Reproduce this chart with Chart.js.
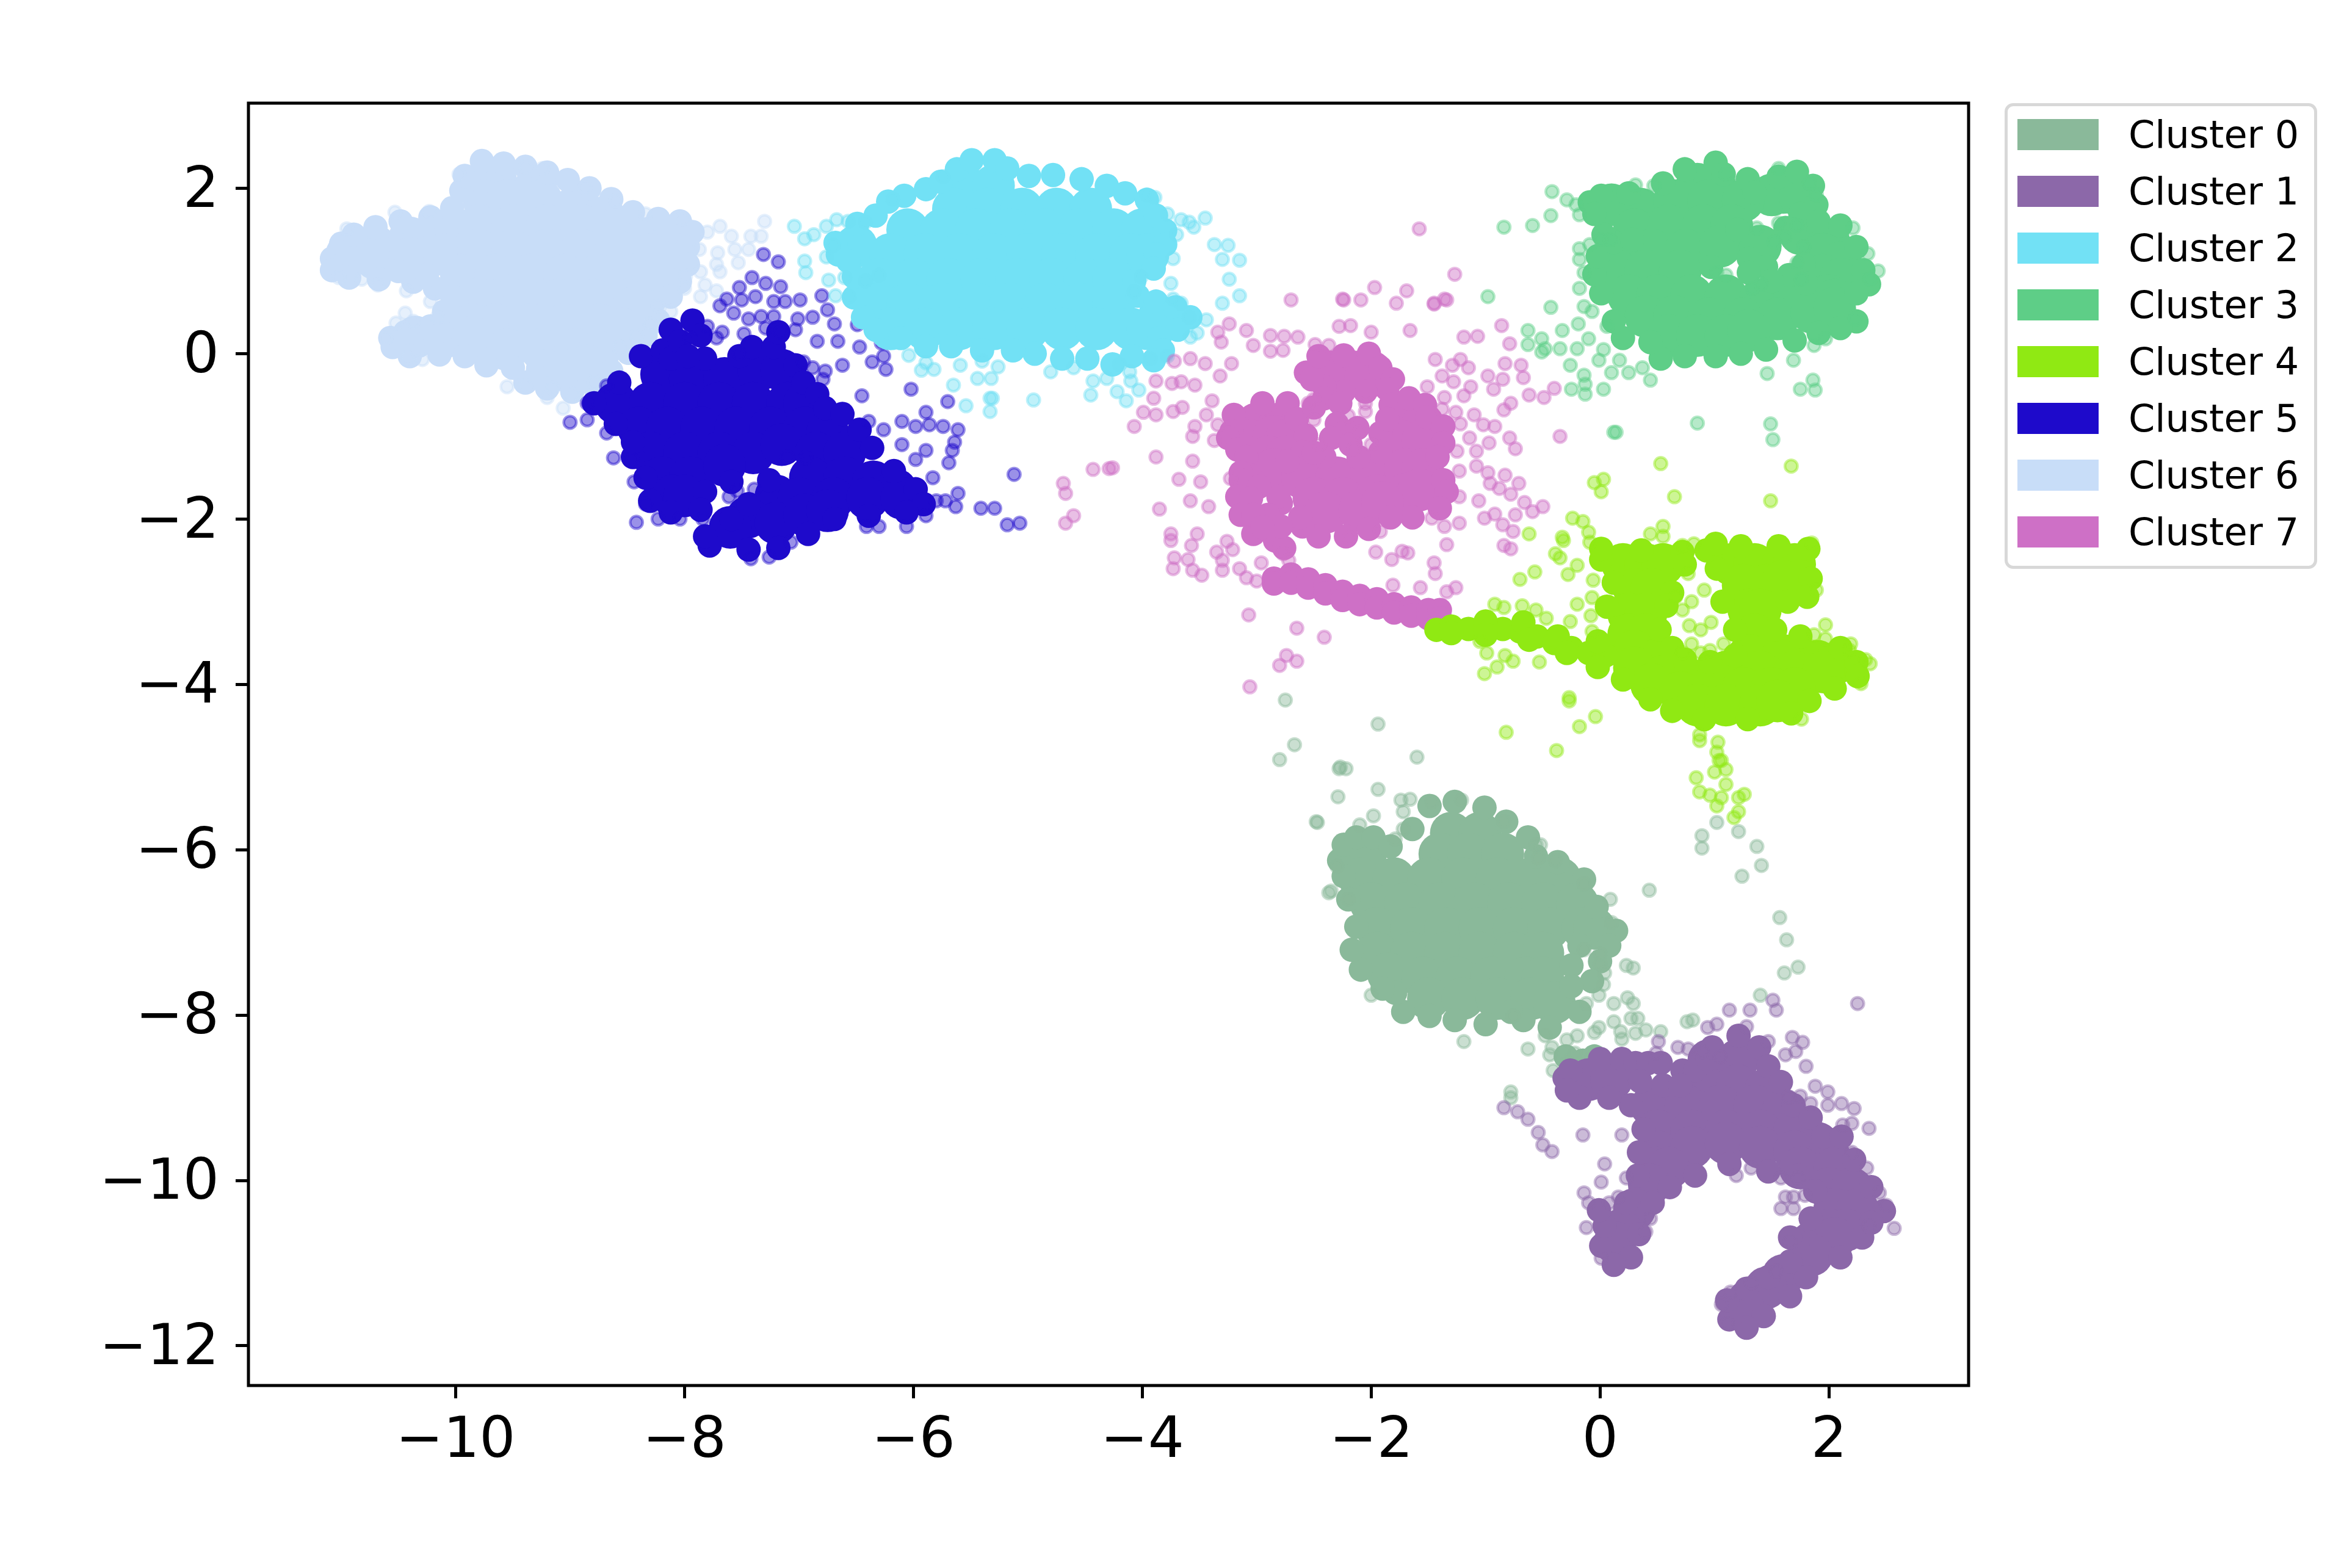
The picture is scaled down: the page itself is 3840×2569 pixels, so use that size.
<!DOCTYPE html>
<html>
<head>
<meta charset="utf-8">
<script src="https://cdn.jsdelivr.net/npm/chart.js@4"></script>
<style>
  html, body { margin: 0; padding: 0; background: #fff; }
  #wrap { position: relative; width: 3840px; height: 2569px; overflow: hidden; }
  #plot { position: absolute; left: 0; top: 0; }
  #legend {
    position: absolute; left: 3284px; top: 169px; width: 502px; height: 753px;
    border: 5px solid #d8d8d8; border-radius: 14px; background: #fff;
    font: 62px "DejaVu Sans", sans-serif; color: #000;
  }
  .row { position: absolute; left: 16px; height: 51px; line-height: 51px; white-space: nowrap; }
  .patch { position: absolute; left: 0; top: 0; width: 133px; height: 51px; }
  .name { position: absolute; left: 182px; top: 0; }
</style>
</head>
<body>
<div id="wrap">
  <canvas id="plot" width="3840" height="2569"></canvas>
  <div id="legend"></div>
</div>
<script>
"use strict";

const clusterNames = ["Cluster 0", "Cluster 1", "Cluster 2", "Cluster 3", "Cluster 4", "Cluster 5", "Cluster 6", "Cluster 7"];
const clusterColors = ["#8AB99A", "#8C68A9", "#72E1F5", "#5ECE87", "#90E913", "#1E0ACB", "#C8DDF8", "#CE70C6"];
const xTicks = [-10, -8, -6, -4, -2, 0, 2];
const yTicks = [-12, -10, -8, -6, -4, -2, 0, 2];

// solid middle of each cluster
const dense0 = [[-1.3,-5.8],[-1.05,-5.8],[-2.05,-6.05],[-1.4,-6.05],[-1.15,-6.05],[-.85,-6.05],[-2.1,-6.35],[-1.8,-6.35],[-1.5,-6.35],[-1.2,-6.35],[-.9,-6.35],[-.6,-6.35],[-.35,-6.35],[-2,-6.65],[-1.7,-6.65],[-1.4,-6.65],[-1.1,-6.65],[-.8,-6.65],[-.5,-6.65],[-.2,-6.65],[-1.95,-6.95],[-1.65,-6.95],[-1.35,-6.95],[-1.05,-6.95],[-.75,-6.95],[-.45,-6.95],[-.15,-6.95],[-.05,-6.95],[-1.95,-7.25],[-1.65,-7.25],[-1.35,-7.25],[-1.05,-7.25],[-.75,-7.25],[-.5,-7.25],[-1.85,-7.5],[-1.55,-7.55],[-1.25,-7.55],[-.95,-7.55],[-.65,-7.55],[-.5,-7.55],[-1.5,-7.8],[-1.2,-7.8],[-.9,-7.8],[-.6,-7.8],[-.4,-7.85]];
const dense1 = [[.95,-8.55],[1.2,-8.55],[-.1,-8.78],[.1,-8.78],[.9,-8.85],[1.2,-8.85],[1.45,-8.9],[.45,-9.1],[.75,-9.1],[1.05,-9.1],[1.35,-9.1],[1.6,-9.15],[.5,-9.4],[.8,-9.4],[1.1,-9.4],[1.4,-9.4],[1.7,-9.4],[1.9,-9.55],[.5,-9.65],[.8,-9.6],[1.1,-9.55],[1.4,-9.6],[1.7,-9.65],[2,-9.7],[.5,-9.85],[.6,-9.85],[1.75,-9.85],[2.05,-9.85],[.43,-10.05],[2,-10.1],[2.2,-10.1],[.3,-10.35],[2.05,-10.35],[2.25,-10.35],[.18,-10.6],[2,-10.6],[2.15,-10.6],[.13,-10.75],[1.85,-10.75],[2.05,-10.7],[1.85,-10.9],[1.6,-11.15],[1.45,-11.3],[1.3,-11.45],[1.25,-11.55]];
const dense2 = [[-5.55,2.03],[-5.3,2.03],[-5.65,1.75],[-5.35,1.75],[-5.05,1.75],[-4.75,1.75],[-4.45,1.75],[-6.05,1.5],[-5.75,1.5],[-5.45,1.5],[-5.15,1.5],[-4.85,1.5],[-4.55,1.5],[-4.25,1.5],[-4,1.5],[-6.5,1.3],[-6.2,1.2],[-5.9,1.2],[-5.6,1.2],[-5.3,1.2],[-5,1.2],[-4.7,1.2],[-4.4,1.2],[-4.1,1.2],[-3.95,1.2],[-6.3,.9],[-6,.9],[-5.7,.9],[-5.4,.9],[-5.1,.9],[-4.8,.9],[-4.5,.9],[-4.25,.9],[-6.3,.6],[-6.05,.6],[-5.75,.6],[-5.45,.6],[-5.15,.6],[-4.85,.6],[-4.55,.6],[-4.25,.6],[-3.85,.45],[-6.2,.3],[-5.9,.3],[-5.6,.3],[-5.3,.3],[-5,.3],[-4.7,.3],[-4.4,.3],[-4.1,.3],[-3.95,.3]];
const dense3 = [[.85,2.05],[1,2.05],[1.6,1.95],[1.5,1.92],[.1,1.8],[.35,1.75],[.65,1.85],[.95,1.85],[1.25,1.85],[1.75,1.9],[.3,1.5],[.6,1.55],[.9,1.55],[1.15,1.55],[1.75,1.45],[2,1.35],[.2,1.25],[.45,1.25],[.75,1.25],[1.05,1.3],[1.4,1.3],[1.95,1.2],[2.1,1.1],[.15,1],[.4,1],[.7,1],[1.95,.95],[2.1,.9],[.25,.7],[.5,.7],[.8,.7],[1.1,.7],[1.4,.65],[1.7,.7],[2,.7],[2.05,.65],[.4,.45],[.65,.45],[.95,.42],[1.25,.42],[1.55,.42],[1.85,.5],[2.05,.55],[.6,.22],[.85,.22],[1.1,.22],[1.3,.28]];
const dense4 = [[.2,-2.55],[.4,-2.55],[.55,-2.55],[1.15,-2.55],[1.35,-2.55],[1.6,-2.55],[1.7,-2.55],[.3,-2.85],[.45,-2.85],[1.25,-2.8],[1.45,-2.8],[1.6,-2.75],[.25,-3.15],[.4,-3.15],[1.3,-3.1],[1.4,-3.1],[.25,-3.4],[.4,-3.4],[1.35,-3.4],[.3,-3.6],[.5,-3.7],[1.3,-3.65],[1.6,-3.65],[1.9,-3.72],[2.05,-3.75],[.3,-3.8],[.55,-3.9],[.8,-3.95],[1.1,-3.85],[1.4,-3.85],[1.7,-3.85],[1.95,-3.85],[.45,-4],[.7,-4.1],[.95,-4.05],[1.25,-4.05],[1.5,-4.05],[1.7,-4.05],[.85,-4.25],[1.1,-4.25],[1.4,-4.25],[1.55,-4.2]];
const dense5 = [[-8.2,-.25],[-7.95,-.3],[-7.65,-.3],[-7.35,-.2],[-7.15,-.2],[-8.6,-.6],[-8.3,-.6],[-8,-.6],[-7.7,-.6],[-7.4,-.6],[-7.1,-.6],[-6.95,-.6],[-8.4,-.9],[-8.15,-.9],[-7.85,-.9],[-7.55,-.9],[-7.25,-.9],[-6.95,-.9],[-6.75,-.95],[-8.3,-1.2],[-8,-1.2],[-7.7,-1.2],[-7.4,-1.2],[-7.15,-1.1],[-6.85,-1.2],[-6.6,-1.2],[-8.2,-1.5],[-7.95,-1.5],[-7.65,-1.35],[-6.9,-1.5],[-6.6,-1.5],[-6.35,-1.55],[-6.15,-1.65],[-8.1,-1.72],[-8,-1.72],[-7.2,-1.72],[-7,-1.75],[-6.7,-1.75],[-6.4,-1.75],[-6.1,-1.75],[-7.45,-1.98],[-7.2,-2.05],[-6.95,-1.95],[-6.75,-1.9],[-7.6,-2.1]];
const dense6 = [[-9.65,2.1],[-9.3,2.02],[-9.75,1.85],[-9.55,1.85],[-9.25,1.85],[-8.95,1.78],[-8.7,1.65],[-10.7,1.3],[-10.4,1.4],[-10.1,1.45],[-9.8,1.55],[-9.5,1.55],[-9.2,1.55],[-8.9,1.55],[-8.6,1.5],[-8.3,1.4],[-8.15,1.38],[-10.95,1.2],[-10.7,1.15],[-10.4,1.15],[-10.1,1.2],[-9.8,1.25],[-9.5,1.25],[-9.2,1.25],[-8.9,1.25],[-8.6,1.25],[-8.3,1.2],[-8.15,1.1],[-9.95,.95],[-9.65,.95],[-9.35,.95],[-9.05,.95],[-8.75,.95],[-8.45,.95],[-8.25,.9],[-9.85,.65],[-9.7,.65],[-9.4,.65],[-9.1,.65],[-8.8,.65],[-8.5,.65],[-8.45,.55],[-9.85,.35],[-9.65,.35],[-9.35,.35],[-9.05,.35],[-8.75,.35],[-8.55,.3],[-10.35,.2],[-10.1,.2],[-9.85,.2],[-9.55,.05],[-9.25,.05],[-8.95,.05],[-8.75,.02],[-9.2,-.2],[-9.05,-.2],[-8.85,-.15]];
const dense7 = [[-2.35,-.22],[-2.15,-.22],[-2,-.22],[-2.3,-.3],[-2.05,-.3],[-3,-.85],[-2.8,-.85],[-3.05,-1.05],[-2.85,-1],[-2.75,-1.05],[-2.9,-1.25],[-2.75,-1.25],[-1.7,-.8],[-1.55,-.85],[-1.75,-1.05],[-1.55,-1.05],[-2.85,-1.4],[-2.6,-1.5],[-2.3,-1.5],[-2,-1.45],[-1.7,-1.4],[-1.55,-1.4],[-2.5,-1.75],[-2.25,-1.75],[-1.95,-1.72],[-1.7,-1.7],[-1.58,-1.65],[-2.4,-1.92],[-2.1,-1.9],[-1.9,-1.8]];

// smaller points that trace the outline of each solid shape and its thin arms
const edge0 = [[-2.28,-6.13],[-2.24,-5.94],[-2.13,-5.85],[-1.98,-5.85],[-1.83,-5.96],[-1.64,-5.75],[-1.49,-5.47],[-1.27,-5.42],[-1.01,-5.49],[-.82,-5.66],[-.63,-5.85],[-.56,-6.08],[-.37,-6.15],[-.14,-6.36],[-.03,-6.69],[.14,-6.98],[.08,-7.16],[-.18,-7.16],[0,-7.35],[-.07,-7.59],[-.18,-7.96],[-.44,-8.15],[-.67,-8.06],[-.78,-7.96],[-1,-8.11],[-1.27,-8.06],[-1.49,-8.01],[-1.72,-7.96],[-1.79,-7.73],[-1.9,-7.68],[-2.09,-7.45],[-2.17,-7.21],[-2.13,-6.93],[-2.2,-6.6],[-2.24,-6.32],[-.3,-8.5],[-.25,-8.6],[-.15,-8.55],[-.05,-8.5],[-.25,-7.4],[-.25,-7.65]];
const edge1 = [[-.31,-8.76],[-.26,-8.67],[0,-8.53],[.19,-8.53],[.31,-8.58],[.42,-8.58],[.53,-8.58],[.72,-8.67],[.83,-8.67],[.94,-8.53],[.98,-8.39],[1.21,-8.25],[1.39,-8.39],[1.47,-8.62],[1.58,-8.81],[1.69,-9.09],[1.84,-9.24],[1.95,-9.47],[2.11,-9.47],[2.22,-9.75],[2.37,-10.08],[2.48,-10.37],[2.37,-10.51],[2.29,-10.69],[2.1,-10.93],[1.8,-11.17],[1.66,-11.4],[1.43,-11.64],[1.28,-11.78],[1.13,-11.68],[1.11,-11.45],[1.28,-11.31],[1.47,-11.17],[1.66,-10.98],[1.73,-10.74],[1.66,-10.69],[1.84,-10.46],[1.88,-10.13],[1.73,-9.94],[1.47,-9.89],[1.13,-9.8],[.83,-9.94],[.61,-10.08],[.46,-10.27],[.34,-10.65],[.27,-10.93],[.12,-11.02],[.01,-10.79],[.04,-10.55],[.23,-10.27],[.33,-9.94],[.34,-9.66],[.38,-9.38],[.27,-9.09],[.08,-9],[-.18,-9],[-.29,-8.91],[.35,-8.8],[.55,-8.85],[.7,-8.85],[-.01,-10.36]];
const edge2 = [[-6.68,1.34],[-6.49,1.57],[-6.33,1.67],[-6.22,1.84],[-6.08,1.91],[-5.89,1.99],[-5.76,2.08],[-5.62,2.23],[-5.49,2.34],[-5.29,2.34],[-5.18,2.24],[-4.99,2.15],[-4.78,2.16],[-4.53,2.11],[-4.31,2.03],[-4.15,1.94],[-3.96,1.86],[-3.88,1.67],[-3.8,1.49],[-3.8,1.32],[-3.88,1.2],[-3.9,1.03],[-4.07,.88],[-4.04,.7],[-3.88,.63],[-3.71,.56],[-3.58,.44],[-3.69,.29],[-3.85,.19],[-3.82,.04],[-3.9,-.08],[-4.09,-.03],[-4.26,-.13],[-4.48,-.06],[-4.7,-.06],[-4.94,0],[-5.13,.04],[-5.4,.04],[-5.67,.09],[-5.89,.09],[-6.11,.19],[-6.33,.29],[-6.44,.44],[-6.52,.68],[-6.52,.93],[-6.57,1.12],[-6.66,1.2]];
const edge3 = [[-.09,1.83],[.01,1.91],[.25,1.94],[.55,2.06],[.74,2.23],[1.01,2.31],[1.08,2.17],[1.29,2.11],[1.35,1.95],[1.56,2.14],[1.72,2.2],[1.86,2.03],[1.89,1.8],[1.75,1.69],[1.91,1.6],[2.1,1.55],[2.24,1.29],[2.3,1.01],[2.35,.84],[2.24,.73],[2.24,.39],[2.1,.31],[1.91,.25],[1.7,.16],[1.45,.05],[1.23,0],[1.01,-.03],[.74,-.03],[.53,-.06],[.44,.14],[.2,.19],[.12,.39],[.01,.73],[-.05,.96],[-.02,1.18],[.12,1.35],[.28,1.38],[.03,1.44],[-.05,1.69],[.97,1.05],[1.2,1.5],[1.3,1.15],[1.45,1.05],[1.3,.98],[1.7,1.5],[1.78,1.08],[1.65,.95],[1.5,.88],[1.8,.85],[1.62,1.52]];
const edge4 = [[-1.43,-3.34],[-1.3,-3.3],[-1.15,-3.33],[-1,-3.32],[-.85,-3.33],[-.7,-3.36],[-.55,-3.42],[-.4,-3.5],[-.25,-3.56],[-.1,-3.62],[.05,-3.65],[-1.3,-3.38],[-1,-3.24],[-.67,-3.25],[-.37,-3.42],[-.02,-3.48],[-.29,-3.62],[-.62,-3.46],[-1,-3.4],[.06,-3.06],[.12,-2.77],[.01,-2.49],[.01,-2.36],[.36,-2.38],[.72,-2.4],[.74,-2.55],[.63,-2.89],[.58,-3.05],[.52,-3.34],[.63,-3.56],[.74,-3.7],[.96,-3.73],[1.18,-3.65],[1.18,-3.34],[1.07,-3],[1.02,-2.6],[.93,-2.38],[1.01,-2.3],[1.23,-2.33],[1.56,-2.33],[1.82,-2.36],[1.84,-2.72],[1.81,-2.94],[1.64,-3],[1.53,-3.34],[1.75,-3.42],[2.1,-3.56],[2.24,-3.73],[2.25,-3.9],[2.05,-4.05],[1.83,-4.2],[1.67,-4.35],[1.29,-4.42],[.91,-4.42],[.63,-4.32],[.44,-4.18],[.2,-3.94],[-.02,-3.79]];
const edge5 = [[-8.79,-.6],[-8.57,-.35],[-8.38,-.03],[-8.19,.04],[-8.12,-.06],[-7.82,-.06],[-7.52,-.03],[-7.41,.08],[-7.22,.08],[-7.03,-.14],[-6.96,-.35],[-6.84,-.49],[-6.77,-.66],[-6.62,-.73],[-6.47,-.92],[-6.36,-1.14],[-6.17,-1.42],[-5.98,-1.64],[-5.91,-1.82],[-6.06,-1.92],[-6.39,-1.96],[-6.69,-2],[-6.92,-2.18],[-7.18,-2.35],[-7.44,-2.37],[-7.78,-2.32],[-7.82,-2.21],[-7.59,-2],[-7.44,-1.82],[-7.26,-1.53],[-7.59,-1.55],[-7.82,-1.67],[-7.86,-1.89],[-8.12,-1.92],[-8.3,-1.78],[-8.34,-1.5],[-8.45,-1.25],[-8.45,-1.07],[-8.6,-.85],[-8.12,.29],[-7.93,.4],[-7.86,.22],[-8.04,.15],[-7.97,-.03],[-7.18,.26]];
const edge6 = [[-11.08,1.15],[-11,1.33],[-10.89,1.44],[-10.7,1.53],[-10.48,1.6],[-10.22,1.65],[-10.03,1.76],[-9.95,1.97],[-9.92,2.15],[-9.77,2.33],[-9.58,2.3],[-9.39,2.26],[-9.2,2.19],[-9.02,2.1],[-8.83,2],[-8.64,1.87],[-8.45,1.71],[-8.23,1.63],[-8.04,1.6],[-7.93,1.47],[-7.97,1.29],[-7.97,1.08],[-8.04,.87],[-8.12,.69],[-8.27,.62],[-8.23,.4],[-8.34,.22],[-8.49,.01],[-8.64,-.21],[-8.79,-.39],[-8.98,-.46],[-9.2,-.42],[-9.39,-.35],[-9.5,-.17],[-9.73,-.14],[-9.92,-.03],[-10.14,-.01],[-10.4,-.03],[-10.55,.08],[-10.57,.19],[-10.44,.26],[-10.22,.33],[-10.1,.51],[-10.03,.69],[-10.18,.79],[-10.37,.87],[-10.67,.9],[-10.93,.92],[-11.08,1.01],[-10.25,.95],[-10.5,1]];
const edge7 = [[-2.57,-.23],[-2.46,-.03],[-2.24,-.02],[-2.02,0],[-1.92,-.17],[-1.81,-.31],[-1.86,-.43],[-2.05,-.46],[-2.24,-.46],[-2.41,-.4],[-2.52,-.31],[-2.95,-.6],[-2.73,-.6],[-2.65,-.79],[-2.57,-.99],[-2.6,-1.19],[-3.2,-.74],[-3.22,-.94],[-3.25,-1.02],[-3.17,-1.16],[-3.09,-1.25],[-2.73,-1.3],[-1.83,-.62],[-1.67,-.54],[-1.53,-.62],[-1.51,-.77],[-1.37,-.88],[-1.37,-1.08],[-1.42,-1.25],[-1.92,-.96],[-1.86,-.79],[-1.92,-1.19],[-2.41,-.54],[-2.27,-.6],[-2.3,-.85],[-2.24,-.96],[-2.35,-1.02],[-2.41,-1.25],[-2.11,-1.25],[-2.12,-.9],[-2.18,-1.1],[-2.5,-1.2],[-2.5,-.65],[-1.37,-1.53],[-1.34,-1.67],[-1.4,-1.87],[-1.64,-1.98],[-1.83,-1.98],[-2.02,-2.12],[-2.22,-2.21],[-2.46,-2.21],[-2.6,-2.09],[-2.62,-1.98],[-2.79,-1.81],[-2.81,-1.73],[-3.06,-1.47],[-3.14,-1.44],[-3.14,-1.53],[-3.17,-1.73],[-3.14,-1.95],[-3.03,-2.18],[-2.84,-2.26],[-2.76,-2.35],[-2.98,-1.61],[-2.9,-1.95],[-2.79,-2.09],[-3.05,-1.75],[-3.03,-1.95],[-2.95,-2.1],[-2.85,-2.72],[-2.85,-2.78],[-2.7,-2.67],[-2.7,-2.77],[-2.55,-2.73],[-2.55,-2.83],[-2.4,-2.8],[-2.4,-2.9],[-2.25,-2.88],[-2.25,-2.98],[-2.1,-2.93],[-2.1,-3.03],[-1.95,-2.97],[-1.95,-3.07],[-1.8,-3.03],[-1.8,-3.13],[-1.65,-3.07],[-1.65,-3.17],[-1.5,-3.1],[-1.5,-3.2],[-1.4,-3.1],[-1.4,-3.2]];

// loose points around the clusters
const stray0 = [[-2.28,-5.02],[-2.22,-5.02],[-1.94,-5.27],[-2.29,-5.36],[-2.48,-5.66],[-1.98,-5.59],[-1.74,-5.4],[-1.66,-5.39],[-1.72,-5.54],[-1.47,-5.42],[-1.21,-5.4],[-1.79,-5.87],[-1.72,-5.75],[-2.3,-6.2],[-2.35,-6.5],[-2.2,-6.6],[-2,-7.76],[-1.19,-8.32],[-.84,-5.66],[-.56,-5.94],[-.52,-5.94],[-.54,-6.1],[-.39,-6.13],[-.14,-6.41],[.09,-6.6],[.43,-6.49],[.1,-6.88],[-.14,-7.21],[0,-7.26],[0,-7.38],[.04,-7.49],[.03,-7.63],[-.01,-7.76],[-.12,-7.86],[.23,-7.4],[.29,-7.43],[.12,-7.86],[.24,-7.79],[.29,-7.86],[.27,-8.04],[.33,-8.04],[.12,-8.08],[.18,-8.2],[.19,-8.29],[-.01,-8.15],[-.05,-8.21],[-.2,-8.25],[-.29,-8.3],[-.48,-8.25],[-.42,-8.39],[-.44,-8.48],[-.63,-8.41],[-.41,-8.67],[-.29,-8.58],[-.07,-8.51],[-.22,-8.46],[.31,-8.22],[.4,-8.18],[.53,-8.2],[.76,-8.08],[.81,-8.06],[-.78,-8.93],[-.78,-9],[-.76,-8.01],[.89,-5.83],[.89,-5.98],[1.02,-5.67],[1.21,-5.78],[1.37,-5.96],[1.41,-6.19],[1.24,-6.32],[1.57,-6.82],[1.63,-7.09],[1.73,-7.42],[1.61,-7.49],[1.4,-7.76],[-2.75,-4.19],[-2.8,-4.91],[-2.67,-4.73],[-1.94,-4.48],[-1.6,-4.88],[-2.27,-5],[-2.47,-5.67],[-2.37,-6.52],[-2.1,-5.7]];
const stray1 = [[-.84,-9.12],[-.72,-9.17],[-.63,-9.26],[-.54,-9.42],[-.5,-9.57],[-.42,-9.65],[-.15,-9.45],[.19,-9.45],[.04,-9.8],[.01,-10.02],[.23,-9.97],[-.14,-10.15],[-.1,-10.27],[.16,-10.2],[.08,-10.27],[-.12,-10.57],[.01,-10.94],[.4,-10.62],[.44,-10.46],[1.13,-7.94],[1.31,-7.94],[1.51,-7.82],[1.54,-7.94],[2.25,-7.86],[1.68,-8.27],[1.77,-8.33],[1.47,-8.32],[1.62,-8.48],[1.71,-8.44],[1.8,-8.62],[1.88,-8.86],[1.99,-8.93],[2.11,-9.07],[2.22,-9.13],[1.99,-9.09],[1.65,-8.99],[1.75,-8.98],[1.84,-9.07],[2.12,-9.33],[2.2,-9.31],[2.35,-9.37],[2.33,-9.85],[2.2,-9.66],[2.44,-10.15],[2.5,-10.3],[2.57,-10.58],[2.35,-10.55],[1.28,-8.14],[1.02,-8.11],[.94,-8.15],[.51,-8.32],[.49,-8.46],[.68,-8.39],[.77,-8.41],[.89,-8.44],[1.05,-8.51],[1.19,-9.94],[1.32,-9.85],[1.58,-9.97],[1.73,-9.97],[1.62,-10.2],[1.69,-10.2],[1.58,-10.34],[1.69,-10.34],[1.79,-10.18],[1.66,-10.74],[1.06,-11.5],[1.11,-11.73],[1.14,-11.35],[1.32,-11.24],[1.54,-11.1]];
const stray2 = [[-5.74,2.14],[-6.18,1.87],[-6.67,1.62],[-6.57,1.6],[-6.42,1.59],[-6.87,1.44],[-6.76,1.54],[-7.04,1.54],[-6.95,1.39],[-6.7,1.31],[-6.95,1.12],[-6.76,1.17],[-6.94,.98],[-6.74,.89],[-6.6,.92],[-6.68,.7],[-6.56,.69],[-6.42,.88],[-6.3,.95],[-6.04,-.02],[-5.89,-.11],[-5.93,-.2],[-5.82,-.19],[-5.65,-.38],[-5.59,-.14],[-5.4,-.09],[-5.26,-.16],[-5.44,-.3],[-5.32,-.3],[-5.54,-.63],[-5.33,-.54],[-5.31,-.54],[-5.33,-.7],[-4.95,-.56],[-4.8,-.22],[-4.6,-.17],[-4.43,-.33],[-4.45,-.5],[-4.31,-.3],[-4.2,-.13],[-4.11,-.22],[-4.1,-.33],[-4.03,-.44],[-4.22,-.46],[-4.14,-.57],[-3.78,-.03],[-3.93,-.06],[-3.96,1.92],[-3.89,1.89],[-3.78,1.69],[-3.66,1.62],[-3.59,1.59],[-3.45,1.64],[-3.55,1.53],[-3.7,1.44],[-3.37,1.32],[-3.25,1.31],[-3.73,1.15],[-3.3,1.14],[-3.15,1.13],[-3.75,.85],[-3.24,.9],[-3.15,.7],[-3.3,.61],[-4.01,.93],[-4.07,.75],[-3.73,.66],[-3.66,.61],[-3.59,.44],[-3.44,.41],[-3.52,.25],[-3.58,.2]];
const stray3 = [[-.42,1.96],[-.29,1.86],[-.21,1.8],[-.18,1.68],[-.43,1.67],[-.59,1.55],[-.84,1.53],[-.98,.69],[-.43,.56],[-.63,.28],[-.63,.11],[-.51,.18],[-.51,.02],[-.33,.28],[-.19,.36],[-.48,.06],[-.35,.06],[-.2,.06],[-.1,.18],[-.26,-.14],[-.14,-.26],[-.01,-.08],[.03,.05],[-.25,-.43],[-.13,-.37],[.03,-.43],[-.13,-.49],[.17,-.08],[.1,-.23],[.25,-.23],[.37,-.17],[.44,-.32],[.12,-.95],[.14,-.95],[.85,-.84],[1.49,-.85],[1.51,-1.04],[1.46,-.24],[1.69,-.08],[1.86,-.32],[1.75,-.43],[1.88,-.44],[1.97,.18],[1.87,.1],[2.23,.42],[2.36,.9],[2.43,1],[2.34,1.21],[-.18,1.27],[-.18,1.14],[-.14,.98],[-.18,.79],[-.14,.57],[-.07,.51],[.06,.33],[-.09,1.32],[.01,1.38],[.09,1.38],[.31,2.04],[.47,2.03],[1.1,2.17],[1.56,2.24],[1.83,2.06],[1.89,1.92],[2.21,1.52],[1.02,.98],[1.1,.95],[1.33,.79],[1.41,.84],[1.72,1.1],[1.76,.9],[1.78,1.29],[1.61,1.41],[1.52,1.35],[1.37,1.52],[1.56,1.58],[1.72,1.55]];
const stray4 = [[.53,-1.33],[1.67,-1.36],[1.49,-1.78],[.65,-1.73],[-.05,-1.56],[.03,-1.52],[.01,-1.67],[-.62,-2.18],[-.24,-1.99],[-.15,-2.03],[-.1,-2.16],[-.09,-2.28],[-.33,-2.22],[-.32,-2.26],[-.39,-2.42],[-.35,-2.47],[-.57,-2.64],[-.7,-2.73],[-.28,-2.67],[-.2,-2.56],[-.06,-2.74],[-.07,-2.95],[-.2,-3.03],[-.08,-3.17],[-.26,-3.24],[-.07,-3.36],[-.92,-3.03],[-.84,-3.07],[-.68,-3.05],[-.56,-3.1],[-.47,-3.2],[-.99,-3.62],[-.83,-3.65],[-.76,-3.72],[-.9,-3.79],[-1.01,-3.87],[-.53,-3.73],[-1.05,-3.48],[-.27,-4.16],[-.27,-4.2],[-.04,-4.39],[-.18,-4.51],[-.82,-4.58],[-.38,-4.8],[.44,-2.18],[.55,-2.09],[.55,-2.21],[.82,-2.3],[.72,-2.32],[1.85,-2.29],[1.89,-2.86],[.77,-2.66],[.91,-2.86],[.8,-3],[.72,-3.1],[.66,-2.94],[.78,-3.29],[.88,-3.34],[.97,-3.25],[.8,-3.51],[.88,-3.62],[.72,-3.62],[.96,-3.59],[1.08,-3.51],[1.97,-3.28],[1.87,-3.4],[1.97,-3.45],[2.19,-3.51],[2.18,-3.59],[2.36,-3.75],[2.32,-3.7],[2.28,-3.99],[1.76,-4.42],[.87,-4.61],[.87,-4.68],[1.03,-4.7],[1.02,-4.82],[1.06,-4.92],[1.04,-4.92],[1,-5.06],[1.1,-5.03],[1.1,-5.21],[.84,-5.13],[.87,-5.3],[.96,-5.34],[1.06,-5.37],[1.02,-5.47],[1.21,-5.37],[1.26,-5.33],[1.21,-5.54],[1.17,-5.61]];
const stray5 = [[-7.31,1.2],[-7.18,1.11],[-7.41,.92],[-7.52,.8],[-7.29,.85],[-7.16,.81],[-7.63,.66],[-7.5,.65],[-7.38,.69],[-7.22,.63],[-7.12,.63],[-6.99,.65],[-6.8,.7],[-7.69,.58],[-7.57,.49],[-7.44,.42],[-7.33,.45],[-7.22,.45],[-7.01,.42],[-6.88,.44],[-6.75,.53],[-7.48,.24],[-7.29,.31],[-7.16,.26],[-7.03,.29],[-6.69,.36],[-6.49,.35],[-6.84,.15],[-6.66,.15],[-6.47,.08],[-6.28,.13],[-6.26,-.03],[-6.36,-.1],[-6.24,-.19],[-6.62,-.14],[-6.77,-.21],[-6.88,-.17],[-6.79,-.31],[-6.96,-.1],[-7.8,.33],[-7.67,.26],[-7.72,.19],[-7.52,0],[-7.95,.19],[-6.45,-.51],[-6.02,-.43],[-5.7,-.58],[-6.1,-.82],[-5.89,-.71],[-5.86,-.86],[-6.39,-.82],[-5.98,-.88],[-6.26,-.92],[-6.1,-1.1],[-5.61,-.92],[-5.64,-1.07],[-5.66,-1.17],[-5.69,-1.32],[-5.89,-1.17],[-5.83,-1.5],[-5.98,-1.28],[-5.72,-1.78],[-5.61,-1.69],[-5.63,-1.85],[-5.8,-1.78],[-5.89,-1.96],[-6.06,-2.09],[-6.3,-2.09],[-6.41,-2.09],[-7.07,-2.28],[-7.26,-2.46],[-7.42,-2.48],[-9,-.83],[-8.85,-.8],[-8.85,-.6],[-8.68,-.39],[-8.68,-.96],[-8.62,-1.26],[-8.46,-1.28],[-8.44,-1.55],[-8.34,-1.82],[-8.42,-2.04],[-8.23,-2],[-8.04,-2],[-7.84,-2],[-7.61,-1.73],[-7.54,-1.66],[-6.94,-1.26],[-7.1,-1.25],[-7.39,-1.64],[-5.12,-1.46],[-5.41,-1.87],[-5.29,-1.87],[-5.18,-2.07],[-5.07,-2.05],[-5.74,-.88]];
const stray6 = [[-10.95,1.51],[-10.53,1.71],[-10.23,1.72],[-9.97,2.17],[-9.39,2.26],[-9.24,2.24],[-8.87,2.01],[-8.6,1.85],[-8.34,1.69],[-8.02,1.63],[-7.8,1.47],[-7.69,1.54],[-7.59,1.42],[-7.42,1.42],[-7.33,1.42],[-7.3,1.6],[-7.87,1.26],[-7.71,1.22],[-7.56,1.26],[-7.44,1.26],[-7.53,1.1],[-7.72,1.08],[-7.86,.99],[-7.69,.99],[-7.82,.83],[-7.72,.76],[-7.86,.69],[-8,.79],[-7.99,.94],[-10.43,.76],[-10.22,.63],[-10.44,.49],[-10.52,.37],[-10.37,.39],[-10.61,.19],[-10.16,.44],[-10.29,-.07],[-10.42,-.05],[-10.68,.83],[-11.02,.92],[-10.82,.9],[-9.55,-.4],[-9.2,-.53],[-9.06,-.66],[-8.98,-.49],[-9.39,-.39],[-9.15,-.42],[-8.79,-.35],[-8.57,.08],[-8.23,.58],[-8.12,.51],[-8.3,.36],[-8.42,.22],[-8.21,.33]];
const stray7 = [[-2.7,.65],[-2.24,.65],[-2.09,.65],[-1.78,.61],[-1.45,.61],[-1.34,.65],[-2.28,.33],[-2.18,.34],[-2,.26],[-1.66,.28],[-.86,.34],[-1.19,.2],[-1.07,.21],[-.79,.12],[-3.24,.36],[-3.34,.26],[-3.31,.14],[-3.09,.28],[-3.03,.1],[-2.88,.22],[-2.76,.21],[-2.64,.2],[-2.49,.11],[-2.37,.1],[-2.88,.03],[-2.77,.04],[-3.58,-.06],[-3.72,-.09],[-3.45,-.12],[-3.22,-.12],[-3.32,-.27],[-3.54,-.38],[-3.74,-.36],[-3.88,-.33],[-3.66,-.34],[-3.9,-.54],[-3.88,-.74],[-3.99,-.71],[-3.73,-.7],[-3.65,-.65],[-3.39,-.57],[-3.44,-.74],[-4.07,-.88],[-3.54,-.88],[-3.34,-.86],[-3.56,-1],[-3.37,-1.05],[-3.88,-1.25],[-3.56,-1.3],[-4.29,-1.39],[-3.68,-1.52],[-3.49,-1.55],[-3.58,-1.78],[-3.42,-1.85],[-3.85,-1.88],[-3.23,-1.51],[-3.75,-2.18],[-3.75,-2.26],[-3.52,-2.18],[-3.57,-2.32],[-3.26,-2.27],[-3.35,-2.4],[-3.21,-2.37],[-3.72,-2.47],[-3.73,-2.6],[-3.6,-2.49],[-3.56,-2.62],[-3.48,-2.68],[-3.3,-2.62],[-3.3,-2.5],[-3.15,-2.6],[-3.09,-2.71],[-3,-2.75],[-2.96,-2.53],[-2.77,-2.42],[-2.72,-2.5],[-3.07,-3.16],[-2.65,-3.32],[-2.41,-3.43],[-2.74,-3.65],[-2.65,-3.72],[-3.06,-4.03],[-2.8,-3.77],[-1.44,-.07],[-1.22,-.07],[-1.29,-.14],[-1.15,-.17],[-1.38,-.27],[-1.51,-.4],[-1.28,-.34],[-1.13,-.4],[-1.36,-.53],[-1.19,-.51],[-1.38,-.67],[-1.26,-.71],[-1.1,-.74],[-1.22,-.85],[-.92,-.88],[-1.02,-.86],[-1.14,-1.02],[-.97,-1.08],[-1.25,-1.18],[-1.08,-1.18],[-.79,-1.02],[-.74,-1.15],[-.35,-1],[-.98,-.27],[-.85,-.31],[-.69,-.14],[-.67,-.29],[-.93,-.43],[-.62,-.5],[-.49,-.53],[-.4,-.42],[-.83,-.12],[-.84,-.68],[-.78,-.6],[-1.23,-1.42],[-1.08,-1.36],[-.98,-1.44],[-.83,-1.47],[-.71,-1.57],[-.88,-1.63],[-.96,-1.57],[-.78,-1.7],[-1.23,-1.73],[-1.06,-1.78],[-.66,-1.8],[-.5,-1.85],[-.59,-1.91],[-1.01,-1.99],[-.74,-1.95],[-.92,-1.94],[-.85,-2.07],[-.76,-2.15],[-1.36,-2.09],[-1.23,-2.05],[-1.47,-1.99],[-1.34,-2.31],[-.84,-2.32],[-.78,-2.36],[-1.96,-2.4],[-1.82,-2.49],[-1.73,-2.39],[-1.68,-2.41],[-1.45,-2.53],[-1.44,-2.66],[-1.92,-2.15],[-2.19,-2.23],[-1.57,-2.83],[-1.81,-2.8],[-1.26,-2.83],[-1.34,-2.88],[-1.58,1.51],[-2.25,.66],[-1.97,.8],[-1.69,.76],[-1.27,.96],[-1.45,.6],[-1.36,.66],[-4.69,-1.57],[-4.67,-1.69],[-4.43,-1.4],[-4.26,-1.38],[-4.6,-1.96],[-4.67,-2.05],[-2.2,-.75],[-2.1,-.95],[-2.05,-.7],[-2,-1.1],[-2.05,-.6],[-2.15,-1.15],[-2.5,-.8],[-2.45,-1.1],[-2.5,-.55],[-2.55,-.6]];

const denseSets = [dense0, dense1, dense2, dense3, dense4, dense5, dense6, dense7];
const edgeSets = [edge0, edge1, edge2, edge3, edge4, edge5, edge6, edge7];
const straySets = [stray0, stray1, stray2, stray3, stray4, stray5, stray6, stray7];
// bottom to top, the way the clusters overlap in the picture
const drawOrder = [0, 1, 6, 5, 2, 3, 7, 4];

const datasets = [];
drawOrder.forEach((c, i) => {
  const color = clusterColors[c];
  datasets.push({
    label: clusterNames[c] + " dense",
    data: denseSets[c],
    order: 100 - 3 * i,
    pointRadius: 35,
    pointBorderWidth: 0,
    pointBackgroundColor: color,
  });
  datasets.push({
    label: clusterNames[c] + " edge",
    data: edgeSets[c],
    order: 99 - 3 * i,
    pointRadius: 20,
    pointBorderWidth: 0,
    pointBackgroundColor: color,
  });
  datasets.push({
    label: clusterNames[c],
    data: straySets[c],
    order: 98 - 3 * i,
    pointRadius: 10.25,
    pointBorderWidth: 4.5,
    pointBackgroundColor: color + "73",
    pointBorderColor: color + "73",
  });
});

const minusLabel = (v) => (v < 0 ? "\u2212" + Math.abs(v) : String(v));

const frame = {
  id: "frame",
  afterDraw(chart) {
    const { ctx, chartArea: a } = chart;
    ctx.save();
    ctx.strokeStyle = "#000";
    ctx.lineWidth = 5;
    ctx.strokeRect(a.left, a.top, a.right - a.left, a.bottom - a.top);
    ctx.restore();
  },
};

const axisOptions = (min, max, ticks, padding, labelOffset) => ({
  type: "linear",
  min: min,
  max: max,
  border: { display: false },
  grid: { drawOnChartArea: false, tickLength: 21, tickWidth: 5, tickColor: "#000" },
  afterBuildTicks: (scale) => {
    scale.ticks = ticks.map((v) => ({ value: v }));
  },
  ticks: {
    autoSkip: false,
    maxRotation: 0,
    padding: padding,
    labelOffset: labelOffset,
    color: "#000",
    font: { family: "'DejaVu Sans'", size: 93 },
    callback: minusLabel,
  },
});

const xAxis = axisOptions(-11.81, 3.22, xTicks, 16, 0);
xAxis.afterFit = (scale) => { scale.height = 299; };
const yAxis = axisOptions(-12.48, 3.03, yTicks, 27, 6);
yAxis.afterFit = (scale) => { scale.width = 407; };

new Chart(document.getElementById("plot"), {
  type: "scatter",
  data: { datasets: datasets },
  options: {
    responsive: false,
    animation: false,
    layout: { padding: { left: 0, top: 169, right: 615, bottom: 0 } },
    plugins: { legend: { display: false }, tooltip: { enabled: false } },
    scales: { x: xAxis, y: yAxis },
  },
  plugins: [frame],
});

const legendHTML = document.getElementById("legend");
legendHTML.innerHTML = clusterNames
  .map(
    (name, i) =>
      `<div class="row" style="top:${21 + i * 93}px"><div class="patch" style="background:${clusterColors[i]}"></div><div class="name">${name}</div></div>`
  )
  .join("");
</script>
</body>
</html>
